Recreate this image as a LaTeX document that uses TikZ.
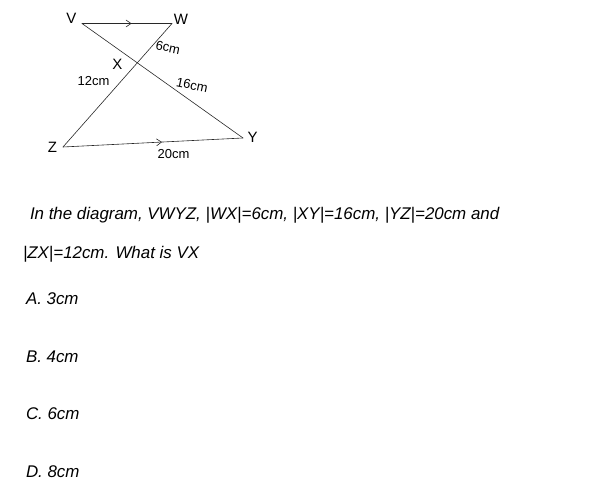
\documentclass[tikz,border=0pt]{standalone}
\usepackage{fontspec}
\setmainfont{Liberation Sans}
\usetikzlibrary{decorations.markings,arrows.meta}
\begin{document}
\begin{tikzpicture}[x=1pt,y=-1pt,line cap=round,
  seg/.style={line width=0.6pt, custcol_line},
  midarrow/.style={postaction={decorate,decoration={markings,
      mark=at position #1 with {\arrow[custcol_line]{Straight Barb[length=5pt,width=7pt,line width=0.6pt]}}}}},
  vlabel/.style={inner sep=0, outer sep=0, font=\fontsize{15pt}{15pt}\selectfont},
  mlabel/.style={inner sep=0, outer sep=0, font=\fontsize{13pt}{13pt}\selectfont},
  qtext/.style={inner sep=0, outer sep=0, anchor=base west, font=\fontsize{16.9pt}{17pt}\itshape}]
\useasboundingbox (0,0) rectangle (591,481);
\definecolor{custcol_line}{RGB}{40, 40, 40}
\definecolor{custcol_0_0_0}{RGB}{0, 0, 0}
% vertices
\coordinate (V) at (82.0,23.5);
\coordinate (W) at (172.0,23.5);
\coordinate (Y) at (243.0,138.0);
\coordinate (Z) at (63.0,147.0);
% sides
\draw [seg, midarrow=0.55] (V) -- (W);
\draw [seg] (V) -- (Y);
\draw [seg] (W) -- (Z);
\draw [seg, midarrow=0.55] (Z) -- (Y);
% letters
\node[vlabel] (lV) at (71.5,18.5) {V};
\node[vlabel] (lW) at (181.0,19.5) {W};
\node[vlabel] (lX) at (117.5,64.5) {X};
\node[vlabel] (lY) at (252.5,137.5) {Y};
\node[vlabel] (lZ) at (52.5,147.5) {Z};
% lengths
\node[mlabel, rotate=-12] (lWX) at (168.0,47.5) {6cm};
\node[mlabel, rotate=-12] (lXY) at (192.0,85.0) {16cm};
\node[mlabel] (lZX) at (93.5,81.5) {12cm};
\node[mlabel] (lYZ) at (173.5,154.5) {20cm};
% question
\node[qtext] (q1) at (30.0,219.0) {In the diagram, VWYZ, |WX|=6cm, |XY|=16cm, |YZ|=20cm and};
\node[qtext] (q2) at (23.0,258.0) {|ZX|=12cm. What is VX};
\node[qtext] (optA) at (26.0,304.0) {A. 3cm};
\node[qtext] (optB) at (26.0,362.0) {B. 4cm};
\node[qtext] (optC) at (26.0,419.0) {C. 6cm};
\node[qtext] (optD) at (26.0,477.0) {D. 8cm};
\end{tikzpicture}
\end{document}
